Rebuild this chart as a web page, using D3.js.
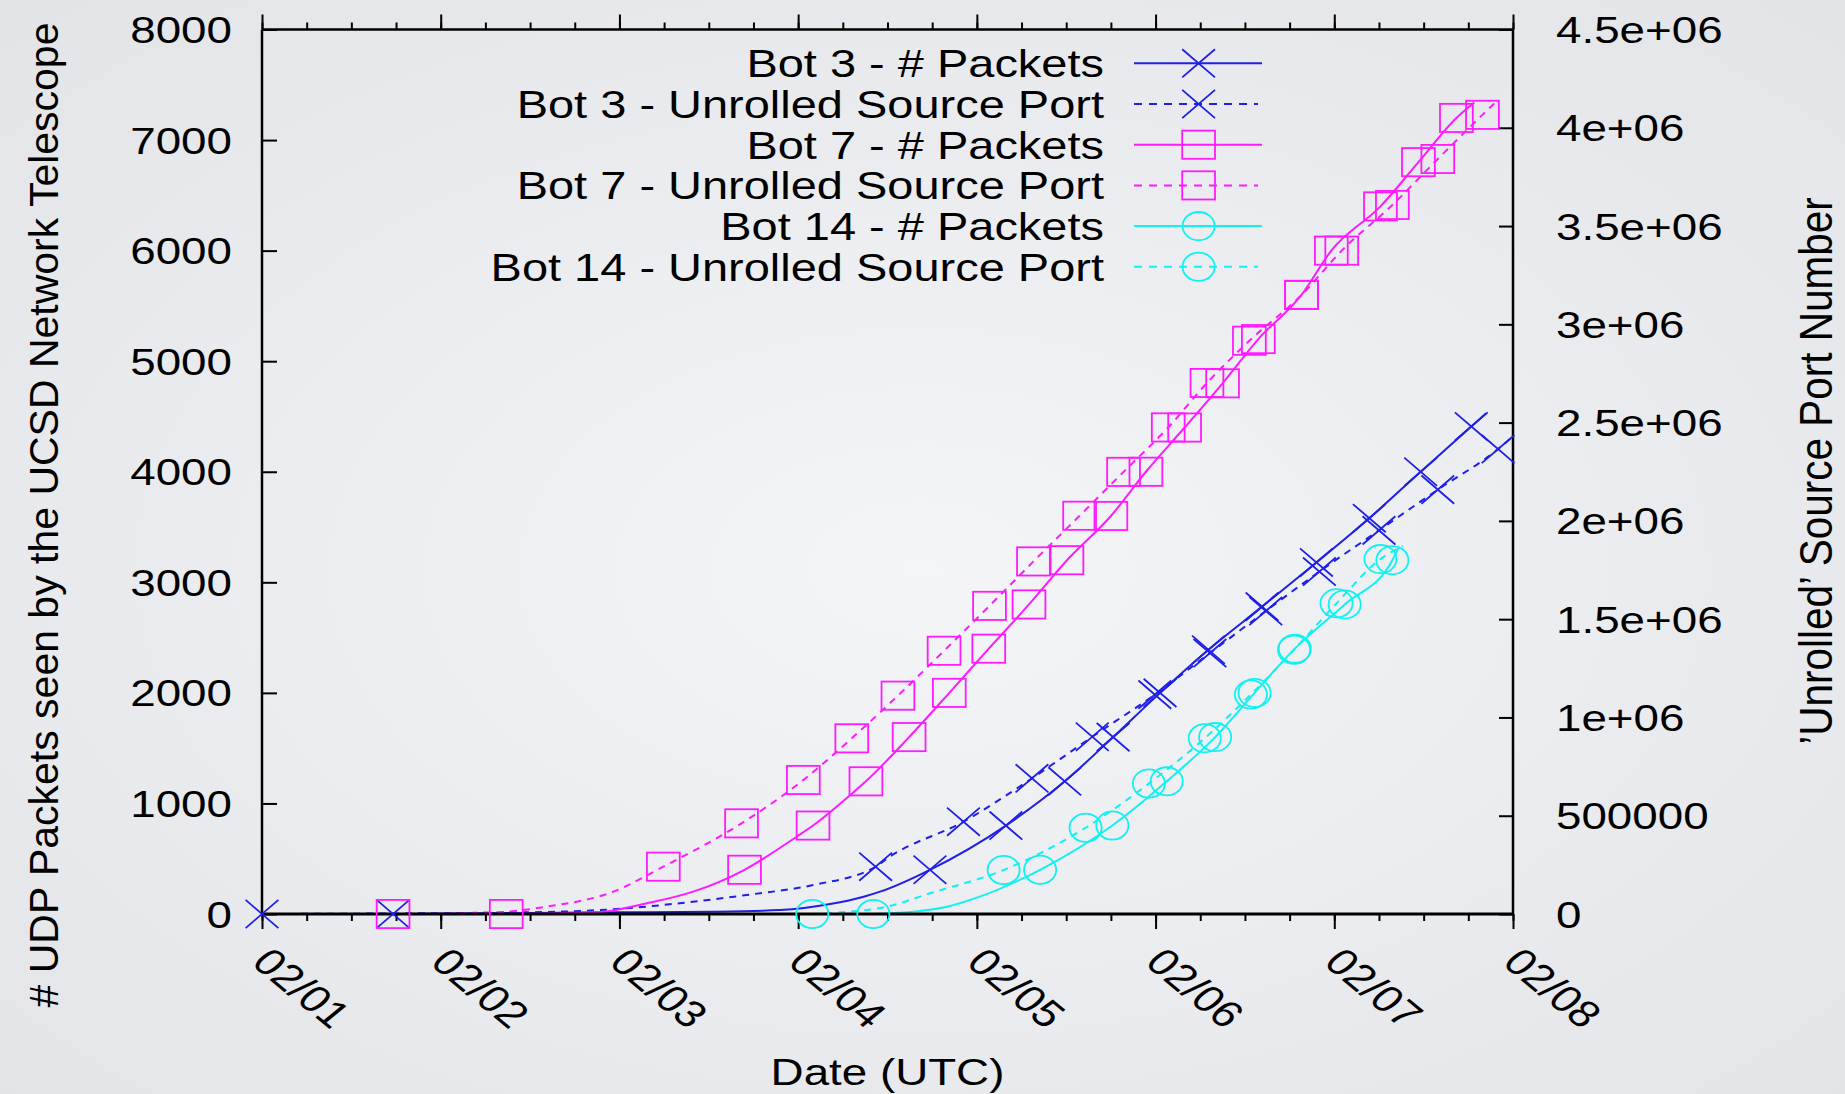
<!DOCTYPE html>
<html>
<head>
<meta charset="utf-8">
<script src="https://cdn.jsdelivr.net/npm/d3@7"></script>
<style>
html, body { margin: 0; padding: 0; overflow: hidden; }
svg { display: block; }
text { font-family: "Liberation Sans", Arial, Helvetica, sans-serif; fill: #000; }
</style>
</head>
<body>
<svg id="chart" width="1845" height="1094"></svg>
<script>
// ---------------- DATA ----------------
// x values: hours since 02/01 00:00 UTC
const dayTickLabels = ["02/01", "02/02", "02/03", "02/04", "02/05", "02/06", "02/07", "02/08"];
const dayTickHours = [0, 24, 48, 72, 96, 120, 144, 168];
const minorTickHours = d3.range(0, 169, 6);

const leftTicks = [0, 1000, 2000, 3000, 4000, 5000, 6000, 7000, 8000];
const leftTickLabels = ["0", "1000", "2000", "3000", "4000", "5000", "6000", "7000", "8000"];
const rightTicks = [0, 500000, 1000000, 1500000, 2000000, 2500000, 3000000, 3500000, 4000000, 4500000];
const rightTickLabels = ["0", "500000", "1e+06", "1.5e+06", "2e+06", "2.5e+06", "3e+06", "3.5e+06", "4e+06", "4.5e+06"];

const xTitle = "Date (UTC)";
const yLeftTitle = "# UDP Packets seen by the UCSD Network Telescope";
const yRightTitle = "\u2019Unrolled\u2019 Source Port Number";

// [hour, value, markerFlag]
const bot3Packets = [[17.6,0,1],[47.2,15],[60.6,21],[69.6,36],[76.3,90],[80.8,156],[83.0,202],[89.7,400,1],[99.9,800,1],[107.8,1200,1],[114.3,1600,1],[120.6,2000,1],[127.1,2390,1],[134.3,2780,1],[141.6,3180,1],[148.7,3580,1],[155.6,4000,1],[162.4,4410,1],[164.4,4530]];
const bot3Ports = [[0,0,1],[34.7,8400],[47.2,24200],[56.1,54600],[65.1,96800],[74.0,147400],[82.4,240800,1],[84.3,291400],[94.2,469700,1],[103.4,690200,1],[111.5,901700,1],[119.9,1116000,1],[127.3,1327500,1],[134.8,1541300,1],[142.0,1742100,1],[150.0,1951900,1],[157.9,2158900,1],[166.0,2365300,1],[168.0,2430000]];
const bot7Packets = [[32.8,0,1],[45.0,15],[51.7,97],[57.9,202],[64.8,400,1],[71.8,699],[74.0,800,1],[79.0,1076],[81.1,1200,1],[86.9,1600,1],[92.3,2000,1],[97.6,2400,1],[103.0,2800,1],[108.1,3200,1],[114.0,3600,1],[118.7,4000,1],[123.9,4400,1],[129.0,4800,1],[133.8,5200,1],[139.6,5600,1],[143.6,6000,1],[150.2,6400,1],[155.3,6800,1],[160.4,7200,1],[162.8,7340]];
const bot7Ports = [[17.6,0,1],[30.6,6750],[38.2,37100],[47.2,113600],[53.9,240800,1],[64.4,461300,1],[72.7,681800,1],[79.2,893800,1],[85.4,1110900,1],[91.6,1339300,1],[97.7,1567700,1],[103.6,1793800,1],[109.8,2026100,1],[115.7,2249400,1],[121.7,2475600,1],[126.9,2701700,1],[132.6,2916600,1],[139.6,3149400,1],[145.0,3375000,1],[151.8,3607300,1],[157.9,3841300,1],[163.9,4065800,1],[166.0,4142300]];
const bot14Packets = [[82.1,0,1],[84.3,6],[92.0,66],[96.4,157],[104.5,400,1],[114.2,800,1],[121.5,1200,1],[128.0,1600,1],[133.3,2000,1],[138.7,2400,1],[145.4,2800,1],[151.8,3200,1],[152.6,3310]];
const bot14Ports = [[73.9,0,1],[77.6,8400],[83.9,37100],[89.7,105200],[99.6,223900,1],[110.6,438800,1],[119.1,663800,1],[126.6,894400,1],[132.8,1116600,1],[138.6,1344400,1],[144.3,1580600,1],[150.2,1805600,1],[153.2,1873100]];

const seriesNames = ["Bot 3 - # Packets", "Bot 3 - Unrolled Source Port", "Bot 7 - # Packets", "Bot 7 - Unrolled Source Port", "Bot 14 - # Packets", "Bot 14 - Unrolled Source Port"];
const seriesData = [bot3Packets, bot3Ports, bot7Packets, bot7Ports, bot14Packets, bot14Ports];
const seriesAxis = ["left", "right", "left", "right", "left", "right"];
const seriesColors = ["#1f1fe6", "#1f1fe6", "#ff1aff", "#ff1aff", "#10f2f2", "#10f2f2"];
const seriesDashed = [false, true, false, true, false, true];
const seriesMarker = ["x", "x", "square", "square", "circle", "circle"];

// ---------------- LAYOUT ----------------
const W = 1845, H = 1094;
const L = 262, R = 1513, T = 29.5, B = 914;
const SX = 1.22;        // horizontal stretch of the original figure
const FS = 37.5;        // tick font size
const LFS = 38.5;       // legend font size
const MW = 16.4, MH = 14.1; // marker half width / half height

const svg = d3.select("#chart");

// background
const defs = svg.append("defs");
const grad = defs.append("radialGradient").attr("id", "bg").attr("cx", "50%").attr("cy", "52%").attr("r", "75%");
grad.append("stop").attr("offset", "0%").attr("stop-color", "#f4f5f7");
grad.append("stop").attr("offset", "100%").attr("stop-color", "#e2e3e7");
svg.append("rect").attr("width", W).attr("height", H).attr("fill", "url(#bg)");

defs.append("clipPath").attr("id", "plotclip").append("rect")
  .attr("x", L).attr("y", T).attr("width", R - L).attr("height", B - T);

const x = d3.scaleLinear().domain([0, 168]).range([L, R]);
const yL = d3.scaleLinear().domain([0, 8000]).range([B, T]);
const yR = d3.scaleLinear().domain([0, 4500000]).range([B, T]);

// ---------------- LINES ----------------
const linesG = svg.append("g").attr("clip-path", "url(#plotclip)");
seriesData.forEach((data, i) => {
  const ys = seriesAxis[i] === "left" ? yL : yR;
  const line = d3.line().x(d => x(d[0])).y(d => ys(d[1])).curve(d3.curveMonotoneX);
  linesG.append("path")
    .attr("d", line(data))
    .attr("fill", "none")
    .attr("stroke", seriesColors[i])
    .attr("stroke-width", 2)
    .attr("stroke-dasharray", seriesDashed[i] ? "7,6" : null);
});

// ---------------- AXES ----------------
function styleAxis(g) {
  g.select(".domain").remove();
  g.selectAll(".tick line").attr("stroke", "#000").attr("stroke-width", 2);
  g.selectAll(".tick text").remove();
}
// bottom (outward)
svg.append("g").attr("transform", `translate(0,${B})`)
  .call(d3.axisBottom(x).tickValues(minorTickHours).tickSizeInner(7).tickSizeOuter(0)).call(styleAxis);
svg.append("g").attr("transform", `translate(0,${B})`)
  .call(d3.axisBottom(x).tickValues(dayTickHours).tickSizeInner(15).tickSizeOuter(0)).call(styleAxis);
// top (outward)
svg.append("g").attr("transform", `translate(0,${T})`)
  .call(d3.axisTop(x).tickValues(minorTickHours).tickSizeInner(7).tickSizeOuter(0)).call(styleAxis);
svg.append("g").attr("transform", `translate(0,${T})`)
  .call(d3.axisTop(x).tickValues(dayTickHours).tickSizeInner(15).tickSizeOuter(0)).call(styleAxis);
// left (inward)
svg.append("g").attr("transform", `translate(${L},0)`)
  .call(d3.axisRight(yL).tickValues(leftTicks).tickSizeInner(15).tickSizeOuter(0)).call(styleAxis);
// right (inward)
svg.append("g").attr("transform", `translate(${R},0)`)
  .call(d3.axisLeft(yR).tickValues(rightTicks).tickSizeInner(14).tickSizeOuter(0)).call(styleAxis);

// border
svg.append("line").attr("x1", L).attr("x2", R).attr("y1", T).attr("y2", T).attr("stroke", "#000").attr("stroke-width", 2.5);
svg.append("line").attr("x1", L).attr("x2", R).attr("y1", B).attr("y2", B).attr("stroke", "#000").attr("stroke-width", 3.2);
svg.append("line").attr("x1", L).attr("x2", L).attr("y1", T).attr("y2", B).attr("stroke", "#000").attr("stroke-width", 2.5);
svg.append("line").attr("x1", R).attr("x2", R).attr("y1", T).attr("y2", B).attr("stroke", "#000").attr("stroke-width", 2.5);

// ---------------- MARKERS ----------------
function drawMarker(g, type, cx, cy, color) {
  if (type === "x") {
    g.append("path")
      .attr("d", `M${cx - MW},${cy - MH}L${cx + MW},${cy + MH}M${cx - MW},${cy + MH}L${cx + MW},${cy - MH}`)
      .attr("stroke", color).attr("stroke-width", 1.8).attr("fill", "none");
  } else if (type === "square") {
    g.append("rect").attr("x", cx - MW).attr("y", cy - MH).attr("width", 2 * MW).attr("height", 2 * MH)
      .attr("stroke", color).attr("stroke-width", 1.8).attr("fill", "none");
  } else {
    g.append("ellipse").attr("cx", cx).attr("cy", cy).attr("rx", MW * 0.98).attr("ry", MH)
      .attr("stroke", color).attr("stroke-width", 1.8).attr("fill", "none");
  }
}
const markG = svg.append("g");
seriesData.forEach((data, i) => {
  const ys = seriesAxis[i] === "left" ? yL : yR;
  data.filter(d => d[2]).forEach(d => drawMarker(markG, seriesMarker[i], x(d[0]), ys(d[1]), seriesColors[i]));
});

// ---------------- TICK LABELS ----------------
const txt = svg.append("g").style("font-size", FS + "px");
leftTicks.forEach((v, i) => {
  txt.append("text").attr("text-anchor", "end")
    .attr("transform", `translate(${L - 30},${yL(v) + 13.5}) scale(${SX},1)`)
    .text(leftTickLabels[i]);
});
rightTicks.forEach((v, i) => {
  txt.append("text").attr("text-anchor", "start")
    .attr("transform", `translate(${R + 43},${yR(v) + 13.5}) scale(${SX},1)`)
    .text(rightTickLabels[i]);
});
dayTickHours.forEach((h, i) => {
  txt.append("text").attr("text-anchor", "start")
    .attr("transform", `translate(${x(h) - 12},${B + 50}) scale(${SX},1) rotate(45)`)
    .text(dayTickLabels[i]);
});

// axis titles
txt.append("text").attr("text-anchor", "middle")
  .attr("transform", `translate(${(L + R) / 2},${1085}) scale(${SX},1)`)
  .text(xTitle);
svg.append("text").attr("text-anchor", "middle").style("font-size", "41px")
  .attr("transform", `translate(58,515) rotate(-90) scale(1,0.97)`)
  .text(yLeftTitle);
svg.append("text").attr("text-anchor", "middle").style("font-size", "40.5px")
  .attr("transform", `translate(1832,471) rotate(-90) scale(1,1.16)`)
  .text(yRightTitle);

// ---------------- LEGEND ----------------
const legG = svg.append("g").style("font-size", LFS + "px");
seriesNames.forEach((name, i) => {
  const ry = 63.3 + i * 40.7;
  legG.append("text").attr("text-anchor", "end")
    .attr("transform", `translate(1104,${ry + 14}) scale(${SX},1)`)
    .text(name);
  legG.append("line").attr("x1", 1134).attr("x2", seriesDashed[i] ? 1258 : 1262)
    .attr("y1", ry).attr("y2", ry)
    .attr("stroke", seriesColors[i]).attr("stroke-width", 2)
    .attr("stroke-dasharray", seriesDashed[i] ? "8,7" : null);
  drawMarker(legG, seriesMarker[i], 1198.6, ry, seriesColors[i]);
});
</script>
</body>
</html>
